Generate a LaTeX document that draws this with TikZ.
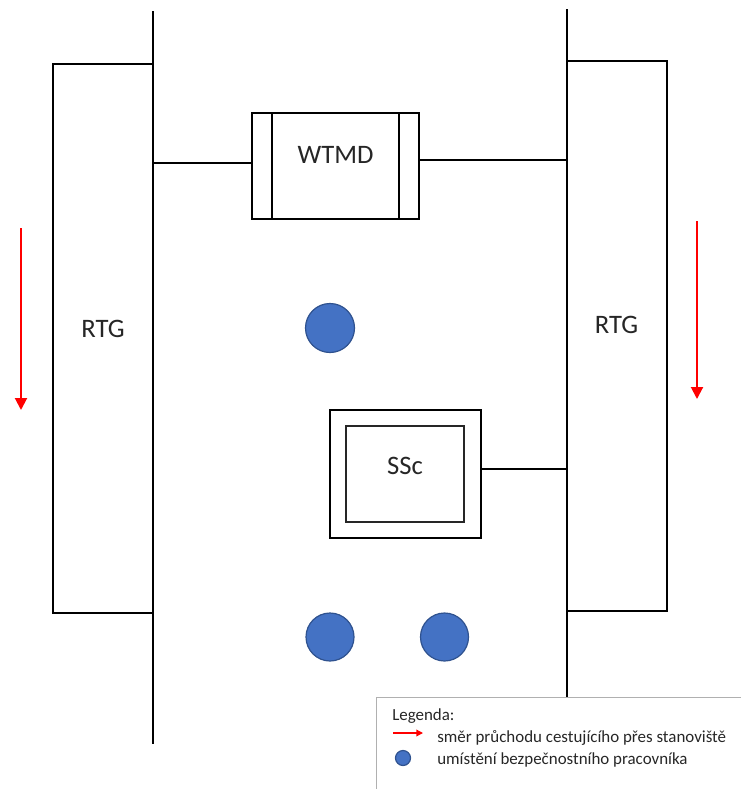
\documentclass[tikz,border=0pt]{standalone}
\usepackage{fontspec}
\setmainfont{Carlito}
\usetikzlibrary{arrows.meta}
\definecolor{dotfill}{HTML}{4472C4}
\definecolor{dotline}{HTML}{2F528F}
\definecolor{flowred}{HTML}{FF0000}
\definecolor{legline}{HTML}{B0B0B0}
\definecolor{txt}{HTML}{262626}
\tikzset{
  wall/.style={draw=black, line width=1.7pt, line cap=rect},
  boxshape/.style={draw=black, line width=1.7pt, rectangle, inner sep=0pt},
  bigtext/.style={font=\fontsize{20}{24}\selectfont, text=txt, inner sep=0pt},
  legtext/.style={font=\fontsize{12.7}{15}\selectfont, text=txt, inner sep=0pt, anchor=base west},
  guard/.style={circle, fill=dotfill, draw=dotline, line width=0.9pt, inner sep=0pt},
  flow/.style={draw=flowred, line width=1.5pt, -{Triangle[width=9pt,length=9pt]}},
  link/.style={draw=black, line width=1.7pt},
}
\begin{document}
\begin{tikzpicture}[x=0.75pt,y=-0.75pt]
\useasboundingbox (0,0) rectangle (741,789);
% vertical walls
\coordinate (lT) at (153,12);
\coordinate (lB) at (153,743);
\coordinate (rT) at (567,10);
\coordinate (rB) at (567,697);
\draw[wall] (lT) -- (lB);
\draw[wall] (rT) -- (rB);
% RTG boxes
\node[boxshape, minimum width=75pt, minimum height=411.75pt] (rtgL) at (103,338.5) {};
\node[bigtext] (rtgLt) at (103,329) {RTG};
\node[boxshape, minimum width=75pt, minimum height=412.5pt] (rtgR) at (617,336) {};
\node[bigtext] (rtgRt) at (616.5,325) {RTG};
% WTMD
\node[boxshape, minimum width=125.25pt, minimum height=79.5pt] (wtmd) at (335.5,166) {};
\node[bigtext] (wtmdt) at (335.5,155) {WTMD};
\coordinate (wi1) at (272,113);
\coordinate (wi2) at (399,113);
\draw[link] (wi1) -- (wi1 |- wtmd.south);
\draw[link] (wi2) -- (wi2 |- wtmd.south);
\coordinate (wl) at (153,163);
\coordinate (wr) at (567,160);
\draw[link] (wl) -- (wl -| wtmd.west);
\draw[link] (wtmd.east |- wr) -- (wr);
% SSc
\node[boxshape, minimum width=113.25pt, minimum height=96pt] (ssc) at (405.5,474) {};
\node[draw=txt, line width=2.1pt, rectangle, inner sep=0pt, minimum width=88.5pt, minimum height=72pt] (sscin) at (405,474) {};
\node[bigtext] (ssct) at (405,466) {SSc};
\coordinate (sr) at (567,469);
\draw[link] (ssc.east |- sr) -- (sr);
% guards
\node[guard, minimum size=36.75pt] (g1) at (330,328) {};
\node[guard, minimum size=36pt] (g2) at (330,637) {};
\node[guard, minimum size=36pt] (g3) at (444.5,637) {};
% flow arrows
\coordinate (aL1) at (21,228);
\coordinate (aL2) at (21,410);
\coordinate (aR1) at (697,221);
\coordinate (aR2) at (697,399);
\draw[flow] (aL1) -- (aL2);
\draw[flow] (aR1) -- (aR2);
% legend
\coordinate (lg1) at (376,789);
\coordinate (lg2) at (376,697);
\coordinate (lg3) at (741,697);
\draw[legline, line width=0.75pt] (lg1) -- (lg2) -- (lg3);
\node[legtext] (legt) at (392,720) {Legenda:};
\coordinate (la1) at (393,733);
\coordinate (la2) at (423,733);
\draw[draw=flowred, line width=1pt, -{Triangle[width=5pt,length=5pt]}] (la1) -- (la2);
\node[legtext] (leg1) at (437,742) {směr průchodu cestujícího přes stanoviště};
\node[guard, minimum size=11.25pt] (legdot) at (403,758) {};
\node[legtext] (leg2) at (437,764) {umístění bezpečnostního pracovníka};
\end{tikzpicture}
\end{document}
